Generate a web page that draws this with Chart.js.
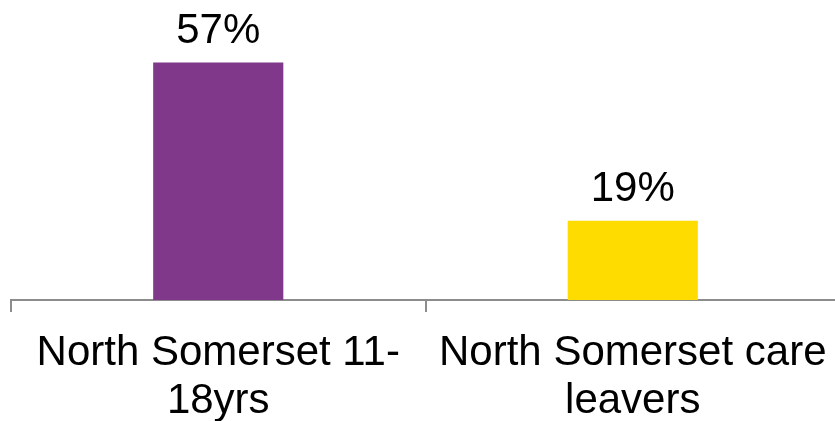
<!DOCTYPE html>
<html>
<head>
<meta charset="utf-8">
<style>
  html, body { margin: 0; padding: 0; background: #ffffff; overflow: hidden; }
  #wrap { width: 840px; height: 421px; position: relative; }
</style>
<script src="https://cdn.jsdelivr.net/npm/chart.js@4/dist/chart.umd.min.js"></script>
</head>
<body>
<div id="wrap"><canvas id="chart"></canvas></div>
<script>
const categories = [
  ['North Somerset 11-', '18yrs'],
  ['North Somerset care', 'leavers']
];
const values = [57, 19];
const barColors = ['#7f388a', '#ffdc00'];

const FONT = 'Liberation Sans, Arial, Helvetica, sans-serif';

// Percentage text above each bar
const valueLabels = {
  id: 'valueLabels',
  afterDatasetsDraw(chart) {
    const ctx = chart.ctx;
    const meta = chart.getDatasetMeta(0);
    ctx.save();
    ctx.font = '42px ' + FONT;
    ctx.fillStyle = '#000000';
    ctx.textAlign = 'center';
    ctx.textBaseline = 'alphabetic';
    meta.data.forEach((bar, i) => {
      ctx.fillText(values[i] + '%', bar.x, bar.y - 20);
    });
    ctx.restore();
  }
};

new Chart(document.getElementById('chart'), {
  type: 'bar',
  data: {
    labels: categories,
    datasets: [{
      data: values,
      backgroundColor: barColors,
      borderWidth: 0,
      categoryPercentage: 1,
      barPercentage: 0.314
    }]
  },
  options: {
    responsive: true,
    maintainAspectRatio: false,
    animation: false,
    layout: { padding: { top: 50, left: 11, right: 0, bottom: 0 } },
    plugins: {
      legend: { display: false },
      tooltip: { enabled: false }
    },
    scales: {
      x: {
        afterFit(scale) {
          scale.height = 121;
          scale.paddingLeft = 0;
          scale.paddingRight = 0;
        },
        border: { display: true, color: '#8c8c8c', width: 2 },
        grid: {
          display: true,
          drawOnChartArea: false,
          drawTicks: true,
          tickLength: 12,
          color: '#8c8c8c',
          lineWidth: 2
        },
        ticks: {
          color: '#000000',
          padding: 18,
          maxRotation: 0,
          autoSkip: false,
          font: { family: FONT, size: 42, lineHeight: 1.13 }
        }
      },
      y: {
        display: false,
        min: 0,
        max: 60
      }
    }
  },
  plugins: [valueLabels]
});
</script>
</body>
</html>
